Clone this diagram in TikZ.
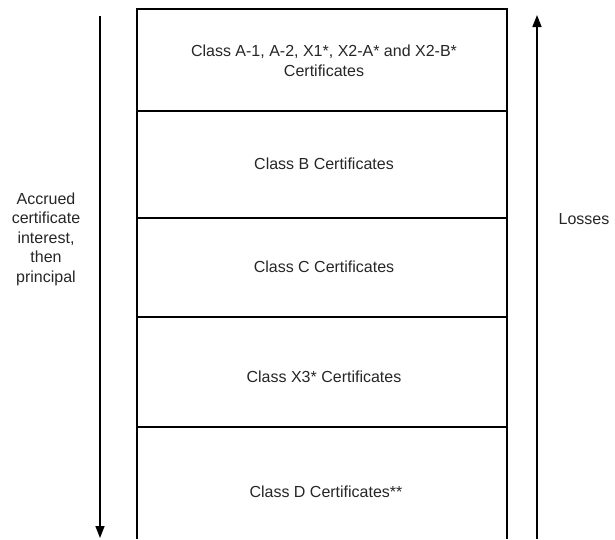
\documentclass[tikz,border=0pt]{standalone}
\usepackage{fontspec}
\setmainfont{Liberation Sans}
\usetikzlibrary{arrows.meta}

\begin{document}
\begin{tikzpicture}[x=1pt, y=-1pt, font=\fontsize{16}{19.5}\selectfont,
  txt/.style={align=center, text=black!85, inner sep=0pt},
  flow/.style={-{Triangle[length=12pt,width=9pt]}, line width=1.5pt}]
\useasboundingbox (0,0) rectangle (615,539);
% stack of classes
\draw[line width=1.4pt] (137,539) -- (137,9) -- (507,9) -- (507,539);
\foreach \y in {111,218,317,427}
  \draw[line width=2pt] (137,\y) -- (507,\y);
\node[txt] (clsa) at (324,61) {Class A-1, A-2, X1*, X2-A* and X2-B*\\Certificates};
\node[txt] (clsb) at (324,164) {Class B Certificates};
\node[txt] (clsc) at (324,267) {Class C Certificates};
\node[txt] (clsx) at (324,377) {Class X3* Certificates};
\node[txt] (clsd) at (326,492) {Class D Certificates**};
% payments down, losses up
\coordinate (ltop) at (100,16);
\coordinate (lbot) at (100,538);
\draw[flow] (ltop) -- (lbot);
\coordinate (rbot) at (537,539);
\coordinate (rtop) at (537,15);
\draw[flow] (rbot) -- (rtop);
\node[txt] (accr) at (46,239) {Accrued\\certificate\\interest,\\then\\principal};
\node[txt] (loss) at (584,219) {Losses};
\end{tikzpicture}
\end{document}
